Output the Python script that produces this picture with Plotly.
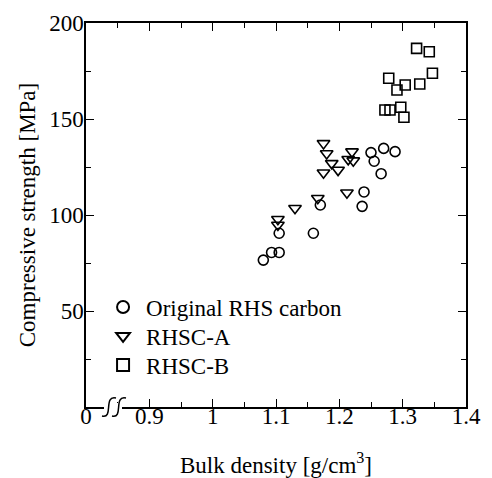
import plotly.graph_objects as go

# Data
circle_x = [1.080, 1.093, 1.105, 1.105, 1.159, 1.170, 1.236, 1.239, 1.266, 1.250, 1.255, 1.270, 1.288]
circle_y = [76.5, 80.5, 80.5, 90.5, 90.5, 105.2, 104.5, 112.0, 121.5, 132.5, 128.0, 134.7, 133.0]

tri_x = [1.103, 1.103, 1.130, 1.166, 1.212, 1.175, 1.180, 1.188, 1.175, 1.198, 1.220, 1.214, 1.222]
tri_y = [97.8, 94.8, 103.5, 108.7, 111.6, 137.3, 132.0, 126.9, 122.0, 123.4, 133.0, 129.0, 128.3]

sq_x = [1.322, 1.342, 1.347, 1.327, 1.304, 1.291, 1.278, 1.272, 1.280, 1.297, 1.302]
sq_y = [186.8, 185.0, 173.8, 168.2, 167.7, 165.1, 171.2, 154.7, 154.7, 156.1, 150.9]

x_tickvals = [0.8, 0.9, 1.0, 1.1, 1.2, 1.3, 1.4]
x_ticktext = ["0", "0.9", "1", "1.1", "1.2", "1.3", "1.4"]
y_tickvals = [50, 100, 150, 200]
y_ticktext = ["50", "100", "150", "200"]

FONT = "Liberation Serif"
FS = 23

fig = go.Figure()
fig.add_trace(go.Scatter(x=circle_x, y=circle_y, mode="markers", name="Original RHS carbon", legend="legend",
                         marker=dict(symbol="circle-open", size=10, color="black", line=dict(width=1.6, color="black"))))
fig.add_trace(go.Scatter(x=tri_x, y=tri_y, mode="markers", name="RHSC-A", legend="legend2",
                         marker=dict(symbol="triangle-down-open", size=11, color="black", line=dict(width=1.6, color="black"))))
fig.add_trace(go.Scatter(x=sq_x, y=sq_y, mode="markers", name="RHSC-B", legend="legend3",
                         marker=dict(symbol="square-open", size=10, color="black", line=dict(width=1.6, color="black"))))

fig.update_xaxes(range=[0.8, 1.4], tickmode="array", tickvals=x_tickvals, ticktext=x_ticktext,
                 showline=True, linecolor="black", linewidth=1.5, mirror="ticks",
                 ticks="inside", ticklen=8, tickwidth=1.2, tickcolor="black",
                 showgrid=False, zeroline=False,
                 tickfont=dict(family=FONT, size=FS, color="black"),
                 ticklabelstandoff=-12,
                 minor=dict(dtick=0.05, tick0=0.8, ticks="inside", ticklen=5, tickwidth=1.2, tickcolor="black"),
                 title=dict(text="Bulk density [g/cm<sup>3</sup>]", font=dict(family=FONT, size=FS, color="black"), standoff=29))
fig.update_yaxes(range=[0, 200], tickmode="array", tickvals=y_tickvals, ticktext=y_ticktext,
                 showline=True, linecolor="black", linewidth=1.5, mirror="ticks",
                 ticks="inside", ticklen=8, tickwidth=1.2, tickcolor="black",
                 showgrid=False, zeroline=False,
                 tickfont=dict(family=FONT, size=FS, color="black"),
                 ticklabelstandoff=-4,
                 minor=dict(dtick=25, tick0=0, ticks="inside", ticklen=5, tickwidth=1.2, tickcolor="black"),
                 title=dict(text="Compressive strength [MPa]", font=dict(family=FONT, size=FS, color="black"), standoff=7))

# Axis-break symbol on the x axis (paper coords: x=(px-86)/380, y=(407-py)/384)
def px2paper(px, py):
    return (px - 86) / 380.0, (407 - py) / 384.0

def s_path(dx):
    p0 = px2paper(102 + dx, 416)
    c1 = px2paper(114 + dx, 419)
    c2 = px2paper(103 + dx, 395)
    p3 = px2paper(116 + dx, 398)
    return f"M {p0[0]},{p0[1]} C {c1[0]},{c1[1]} {c2[0]},{c2[1]} {p3[0]},{p3[1]}"

gx0, gy0 = px2paper(104, 410)
gx1, gy1 = px2paper(122, 403)
fig.add_shape(type="rect", xref="paper", yref="paper", x0=gx0, y0=gy0, x1=gx1, y1=gy1,
              fillcolor="white", line=dict(width=0), layer="above")
fig.add_shape(type="path", xref="paper", yref="paper", path=s_path(0),
              line=dict(color="black", width=1.5), layer="above")
fig.add_shape(type="path", xref="paper", yref="paper", path=s_path(10),
              line=dict(color="black", width=1.5), layer="above")

leg_common = dict(x=0.037, xanchor="left", yanchor="middle",
                  bgcolor="rgba(0,0,0,0)", borderwidth=0,
                  font=dict(family=FONT, size=FS, color="black"),
                  itemsizing="constant", itemwidth=36)

fig.update_layout(
    width=492, height=478,
    margin=dict(l=86, r=26, t=23, b=71, autoexpand=False),
    paper_bgcolor="white", plot_bgcolor="white",
    font=dict(family=FONT, size=FS, color="black"),
    showlegend=True,
    legend=dict(y=(407 - 307) / 384, **leg_common),
    legend2=dict(y=(407 - 336) / 384, **leg_common),
    legend3=dict(y=(407 - 365) / 384, **leg_common),
)

fig.write_html("out.html", config={"displayModeBar": False},
               post_script="document.body.style.margin='0';")
